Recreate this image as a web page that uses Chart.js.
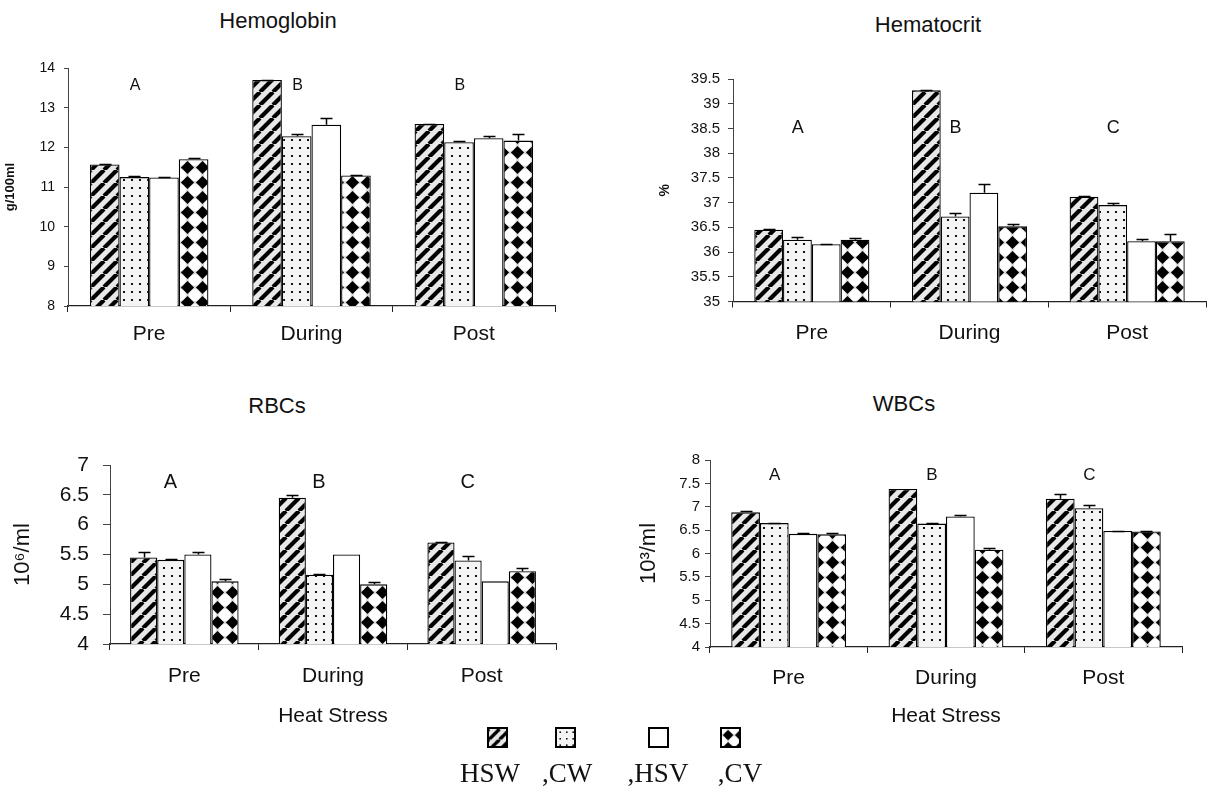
<!DOCTYPE html>
<html>
<head>
<meta charset="utf-8">
<script src="https://cdn.jsdelivr.net/npm/chart.js@4.4.0/dist/chart.umd.min.js"></script>
<style>
  html, body { margin: 0; padding: 0; background: #fff; }
  body { width: 1213px; height: 788px; position: relative; overflow: hidden;
         font-family: "Liberation Sans", Arial, sans-serif; color: #111; }
  canvas.panel { position: absolute; }
  .ptitle { position: absolute; font-size: 22px; line-height: 22px; white-space: nowrap;
            transform: translateX(-50%); }
  .swatch { position: absolute; width: 21px; height: 21px; border: 2px solid #000; box-sizing: border-box; }
  .lg { position: absolute; font-family: "Liberation Serif", "Times New Roman", serif; font-size: 27px;
        line-height: 27px; white-space: nowrap; transform: translateX(-50%); }
</style>
</head>
<body>

<div class="ptitle" style="left:278px; top:10px;">Hemoglobin</div>
<div class="ptitle" style="left:928px; top:14px;">Hematocrit</div>
<div class="ptitle" style="left:277px; top:395px;">RBCs</div>
<div class="ptitle" style="left:904px; top:393px;">WBCs</div>

<canvas id="hb" class="panel" width="600" height="320" style="left:0px; top:40px;"></canvas>
<canvas id="hct" class="panel" width="613" height="320" style="left:600px; top:40px;"></canvas>
<canvas id="rbc" class="panel" width="600" height="320" style="left:0px; top:420px;"></canvas>
<canvas id="wbc" class="panel" width="613" height="320" style="left:600px; top:420px;"></canvas>

<canvas id="sw0" class="swatch" width="21" height="21" style="left:487px; top:727px;"></canvas>
<canvas id="sw1" class="swatch" width="21" height="21" style="left:555px; top:727px;"></canvas>
<canvas id="sw2" class="swatch" width="21" height="21" style="left:648px; top:727px;"></canvas>
<canvas id="sw3" class="swatch" width="21" height="21" style="left:720px; top:727px;"></canvas>
<div class="lg" style="left:490px; top:760px;">HSW</div>
<div class="lg" style="left:567px; top:760px;">,CW</div>
<div class="lg" style="left:658px; top:760px;">,HSV</div>
<div class="lg" style="left:740px; top:760px;">,CV</div>

<script>
// ---- data ----
const categories = ['Pre', 'During', 'Post'];
const groups = ['HSW', 'CW', 'HSV', 'CV'];

// Hemoglobin, g/100ml
const hbHSW = [11.57, 13.70, 12.59];
const hbCW  = [11.25, 12.28, 12.13];
const hbHSV = [11.24, 12.57, 12.23];
const hbCV  = [11.70, 11.29, 12.17];
const hbErrHSW = [0.02, 0.01, 0.01];
const hbErrCW  = [0.02, 0.06, 0.04];
const hbErrHSV = [0.02, 0.17, 0.05];
const hbErrCV  = [0.02, 0.01, 0.17];
const hbLetters = ['A', 'B', 'B'];
const hbAxis = [8, 14, 1];          // min, max, step

// Hematocrit, %
const hctHSW = [36.45, 39.27, 37.12];
const hctCW  = [36.25, 36.72, 36.95];
const hctHSV = [36.16, 37.20, 36.22];
const hctCV  = [36.25, 36.52, 36.22];
const hctErrHSW = [0.01, 0.01, 0.02];
const hctErrCW  = [0.06, 0.08, 0.05];
const hctErrHSV = [0.01, 0.18, 0.05];
const hctErrCV  = [0.03, 0.05, 0.15];
const hctLetters = ['A', 'B', 'C'];
const hctAxis = [35, 39.5, 0.5];

// Red blood cells, 10^6/ml
const rbcHSW = [5.45, 6.45, 5.70];
const rbcCW  = [5.41, 5.16, 5.40];
const rbcHSV = [5.50, 5.50, 5.05];
const rbcCV  = [5.05, 5.00, 5.22];
const rbcErrHSW = [0.09, 0.04, 0.01];
const rbcErrCW  = [0.01, 0.02, 0.07];
const rbcErrHSV = [0.04, 0, 0];
const rbcErrCV  = [0.04, 0.04, 0.05];
const rbcLetters = ['A', 'B', 'C'];
const rbcAxis = [4, 7, 0.5];

// White blood cells, 10^3/ml
const wbcHSW = [6.88, 7.38, 7.17];
const wbcCW  = [6.65, 6.64, 6.97];
const wbcHSV = [6.42, 6.79, 6.48];
const wbcCV  = [6.41, 6.08, 6.47];
const wbcErrHSW = [0.02, 0, 0.11];
const wbcErrCW  = [0.01, 0.01, 0.07];
const wbcErrHSV = [0.01, 0.03, 0.01];
const wbcErrCV  = [0.02, 0.03, 0.01];
const wbcLetters = ['A', 'B', 'C'];
const wbcAxis = [4, 8, 0.5];

// ---- fill patterns ----
function makePattern(kind, ctxTarget) {
  const c = document.createElement('canvas');
  const g = c.getContext('2d');
  if (kind === 'HSW') {
    const s = 13; c.width = s; c.height = s;
    g.fillStyle = '#e8e8e8'; g.fillRect(0, 0, s, s);
    g.strokeStyle = '#000'; g.lineWidth = 4.2;
    g.beginPath();
    for (const k of [-s, 0, s]) { g.moveTo(k, s); g.lineTo(k + s, 0); }
    g.stroke();
  } else if (kind === 'CW') {
    const s = 8; c.width = s; c.height = s;
    g.fillStyle = '#f4f4f4'; g.fillRect(0, 0, s, s);
    g.fillStyle = '#111'; g.fillRect(3, 3, 2, 2);
  } else if (kind === 'HSV') {
    c.width = 4; c.height = 4;
    g.fillStyle = '#fff'; g.fillRect(0, 0, 4, 4);
  } else {
    const s = 15; c.width = s; c.height = s;
    g.fillStyle = '#dcdcdc'; g.fillRect(0, 0, s, s);
    g.fillStyle = '#fff';
    for (const [cx, cy] of [[0, 0], [s, 0], [0, s], [s, s]]) {
      g.beginPath(); g.arc(cx, cy, 6, 0, Math.PI * 2); g.fill();
    }
    const h = 6.6, m = s / 2;
    g.fillStyle = '#000';
    g.beginPath();
    g.moveTo(m, m - h); g.lineTo(m + h, m);
    g.lineTo(m, m + h); g.lineTo(m - h, m);
    g.closePath(); g.fill();
  }
  return (ctxTarget || g).createPattern(c, 'repeat');
}

const FONT = '"Liberation Sans", Arial, sans-serif';

// error bars (upper whisker) and group letters, drawn through the chart scales
function overlayPlugin(errors, letters, level, letterSize) {
  return {
    id: 'overlay',
    afterDatasetsDraw(chart) {
      const { ctx, scales: { x, y } } = chart;
      ctx.save();
      ctx.strokeStyle = '#000';
      ctx.lineWidth = 1.5;
      chart.data.datasets.forEach((ds, i) => {
        const meta = chart.getDatasetMeta(i);
        meta.data.forEach((bar, j) => {
          const e = errors[i][j];
          if (!e) return;
          const top = Math.round(y.getPixelForValue(ds.data[j] + e)) + 0.5;
          const bx = Math.round(bar.x) + 0.5;
          ctx.beginPath();
          ctx.moveTo(bx, bar.y); ctx.lineTo(bx, top);
          ctx.moveTo(bx - 6, top); ctx.lineTo(bx + 6, top);
          ctx.stroke();
        });
      });
      ctx.fillStyle = '#111';
      ctx.font = letterSize + 'px ' + FONT;
      ctx.textAlign = 'center';
      ctx.textBaseline = 'middle';
      letters.forEach((t, i) => {
        ctx.fillText(t, x.getPixelForValue(i) - 14, y.getPixelForValue(level));
      });
      ctx.restore();
    }
  };
}

function buildPanel(id, spec) {
  const canvas = document.getElementById(id);
  const ctx = canvas.getContext('2d');
  const datasets = groups.map((g, k) => ({
    label: g,
    data: spec.values[k],
    backgroundColor: makePattern(g, ctx),
    borderColor: '#000',
    borderWidth: 1.3,
    borderSkipped: false,
    categoryPercentage: 0.73,
    barPercentage: 1.0
  }));
  return new Chart(canvas, {
    type: 'bar',
    data: { labels: categories, datasets },
    plugins: [overlayPlugin(spec.errors, spec.letters, spec.letterLevel, spec.letterSize)],
    options: {
      responsive: false,
      animation: false,
      devicePixelRatio: 1,
      layout: { padding: { top: spec.padTop, right: spec.padRight, left: 0, bottom: 0 } },
      plugins: { legend: { display: false }, tooltip: { enabled: false }, title: { display: false } },
      scales: {
        x: {
          grid: { display: true, drawOnChartArea: false, offset: true, tickLength: 6, color: '#222', lineWidth: 1 },
          border: { display: true, color: '#222', width: 1.2 },
          ticks: { font: { family: FONT, size: 21 }, color: '#111', padding: spec.xPad, maxRotation: 0 },
          title: {
            display: !!spec.xTitle, text: spec.xTitle || '', color: '#111',
            font: { family: FONT, size: 21 }, padding: { top: 0, bottom: 11 }
          },
          afterFit(scale) { scale.height = spec.xHeight; }
        },
        y: {
          min: spec.axis[0], max: spec.axis[1],
          ticks: {
            stepSize: spec.axis[2], color: '#111', padding: spec.yPad,
            font: { family: FONT, size: spec.yTickSize },
            callback: (v) => String(v)
          },
          grid: { display: true, drawOnChartArea: false, tickLength: spec.yTick, color: '#444', lineWidth: 1 },
          border: { display: true, color: '#444', width: 1 },
          title: {
            display: true, text: spec.yTitle, color: '#111',
            font: { family: FONT, size: spec.yTitleSize, weight: spec.yTitleBold ? 'bold' : 'normal' },
            padding: { top: spec.yTitlePad, bottom: 0 }
          },
          afterFit(scale) { scale.width = spec.yWidth; }
        }
      }
    }
  });
}

buildPanel('hb', {
  values: [hbHSW, hbCW, hbHSV, hbCV],
  errors: [hbErrHSW, hbErrCW, hbErrHSV, hbErrCV],
  letters: hbLetters, letterLevel: 13.55, letterSize: 16,
  axis: hbAxis,
  padTop: 28, padRight: 45, yWidth: 68, xHeight: 54,
  xPad: 10, yPad: 9, yTick: 4, yTickSize: 14,
  yTitle: 'g/100ml', yTitleSize: 13, yTitleBold: true, yTitlePad: 3
});

buildPanel('hct', {
  values: [hctHSW, hctCW, hctHSV, hctCV],
  errors: [hctErrHSW, hctErrCW, hctErrHSV, hctErrCV],
  letters: hctLetters, letterLevel: 38.5, letterSize: 18,
  axis: hctAxis,
  padTop: 39, padRight: 7, yWidth: 133, xHeight: 58.5,
  xPad: 13, yPad: 8, yTick: 5, yTickSize: 15,
  yTitle: '%', yTitleSize: 14, yTitleBold: true, yTitlePad: 57
});

buildPanel('rbc', {
  values: [rbcHSW, rbcCW, rbcHSV, rbcCV],
  errors: [rbcErrHSW, rbcErrCW, rbcErrHSV, rbcErrCV],
  letters: rbcLetters, letterLevel: 6.7, letterSize: 20,
  axis: rbcAxis,
  padTop: 45, padRight: 44, yWidth: 110, xHeight: 96,
  xPad: 14, yPad: 14, yTick: 7, yTickSize: 21,
  yTitle: '10\u2076/ml', yTitleSize: 22, yTitleBold: false, yTitlePad: 10,
  xTitle: 'Heat Stress'
});

buildPanel('wbc', {
  values: [wbcHSW, wbcCW, wbcHSV, wbcCV],
  errors: [wbcErrHSW, wbcErrCW, wbcErrHSV, wbcErrCV],
  letters: wbcLetters, letterLevel: 7.68, letterSize: 17,
  axis: wbcAxis,
  padTop: 40, padRight: 31, yWidth: 110, xHeight: 93,
  xPad: 13, yPad: 5, yTick: 5, yTickSize: 15,
  yTitle: '10\u00b3/ml', yTitleSize: 22, yTitleBold: false, yTitlePad: 36,
  xTitle: 'Heat Stress'
});

// legend swatches share the bar fills
groups.forEach((g, k) => {
  const c = document.getElementById('sw' + k);
  const cx = c.getContext('2d');
  cx.fillStyle = makePattern(g, cx);
  cx.fillRect(0, 0, c.width, c.height);
});
</script>
</body>
</html>
